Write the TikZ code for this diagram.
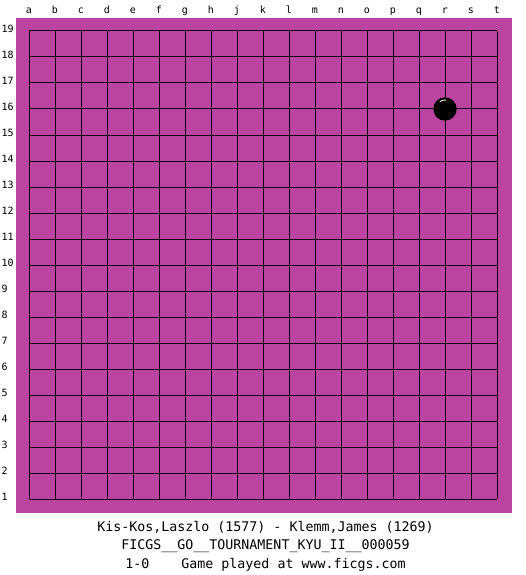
\documentclass[tikz,border=0pt]{standalone}
\usepackage{fontspec}
\setmonofont{DejaVu Sans Mono}
\definecolor{boardmag}{RGB}{187,68,160}
\tikzset{
  boardbg/.style={fill=boardmag},
  gridline/.style={draw=black, line width=1pt},
  collab/.style={font=\ttfamily\fontsize{10}{12}\selectfont, inner sep=0pt, anchor=base},
  rowlab/.style={font=\ttfamily\fontsize{10}{12}\selectfont, inner sep=0pt, anchor=base west},
  infotext/.style={font=\ttfamily\fontsize{13.3}{16}\selectfont, inner sep=0pt, anchor=base},
  blackstone/.style={fill=black},
  shine/.style={draw=white, line width=0.9pt}
}
\begin{document}
\begin{tikzpicture}[x=1pt,y=-1pt]
\useasboundingbox[fill=white] (0,0) rectangle (525,575);
\fill[boardbg] (16,18) rectangle (512,513);
\foreach \i in {0,...,18}{
  \draw[gridline] (29+26*\i,31) -- (29+26*\i,499);
  \draw[gridline] (29,31+26*\i) -- (497,31+26*\i);
}
\foreach \l [count=\i from 0] in {a,b,c,d,e,f,g,h,j,k,l,m,n,o,p,q,r,s,t}{
  \node[collab] (col\l) at (29+26*\i,14) {\l};
}
\foreach \n in {1,...,19}{
  \node[rowlab] (row\n) at (1.5,31+26*19-26*\n+1.5) {\n};
}
\fill[blackstone] (445,109) circle (11.7);
\draw[shine] (445,109) ++(235:9) arc (235:275:9);
\node[infotext] (players) at (265.5,531) {Kis-Kos,Laszlo (1577) - Klemm,James (1269)};
\node[infotext] (event) at (265.5,549) {FICGS\_\_GO\_\_TOURNAMENT\_KYU\_II\_\_000059};
\node[infotext] (result) at (265.5,568) {1-0\ \ \ \ Game played at www.ficgs.com};
\end{tikzpicture}
\end{document}
